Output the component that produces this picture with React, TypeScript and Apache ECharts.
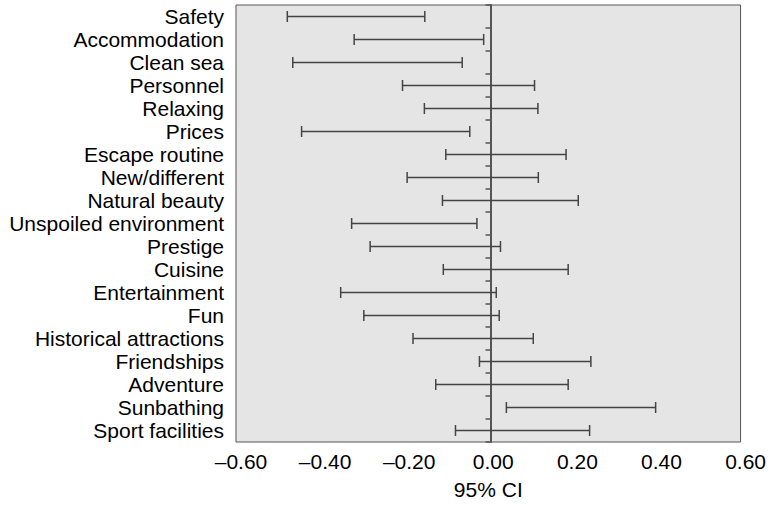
import React, { useEffect, useRef } from "react";
import * as echarts from "echarts";

const categories = [
  "Safety",
  "Accommodation",
  "Clean sea",
  "Personnel",
  "Relaxing",
  "Prices",
  "Escape routine",
  "New/different",
  "Natural beauty",
  "Unspoiled environment",
  "Prestige",
  "Cuisine",
  "Entertainment",
  "Fun",
  "Historical attractions",
  "Friendships",
  "Adventure",
  "Sunbathing",
  "Sport facilities",
];

const lowerCI = [
  -0.478, -0.319, -0.465, -0.204, -0.152, -0.444, -0.101, -0.193, -0.109, -0.325,
  -0.281, -0.107, -0.351, -0.296, -0.179, -0.021, -0.125, 0.043, -0.078,
];

const upperCI = [
  -0.151, -0.011, -0.062, 0.11, 0.118, -0.044, 0.185, 0.119, 0.214, -0.027,
  0.029, 0.19, 0.019, 0.026, 0.107, 0.244, 0.19, 0.398, 0.241,
];

const xMin = -0.6;
const xMax = 0.6;
const xInterval = 0.2;
const xTitle = "95% CI";

const W = 769;
const H = 505;
const GRID = { left: 236, right: 24, top: 5, bottom: 60 };
const FONT = "'Liberation Sans', Arial, Helvetica, sans-serif";

function fmt(v: number): string {
  if (Math.abs(v) < 1e-9) return "0.00";
  return v < 0 ? "\u2013" + Math.abs(v).toFixed(2) : v.toFixed(2);
}

export default function App() {
  const ref = useRef<HTMLDivElement>(null);
  useEffect(() => {
    if (!ref.current) return;
    const chart = echarts.init(ref.current, undefined, { renderer: "svg" });
    const gridWidth = W - GRID.left - GRID.right;
    const zeroOffset = -gridWidth * ((0 - xMin) / (xMax - xMin));
    const data = categories.map((c, i) => [i, lowerCI[i], upperCI[i]]);
    chart.setOption({
      animation: false,
      backgroundColor: "#ffffff",
      grid: {
        ...GRID,
        show: true,
        backgroundColor: "#e5e5e5",
        borderColor: "#555555",
        borderWidth: 1,
        containLabel: false,
      },
      xAxis: {
        type: "value",
        min: xMin,
        max: xMax,
        interval: xInterval,
        name: xTitle,
        nameLocation: "middle",
        nameGap: 37,
        nameTextStyle: { fontFamily: FONT, fontSize: 21, color: "#000" },
        axisLine: { show: false },
        axisTick: { show: false },
        splitLine: { show: false },
        axisLabel: {
          formatter: fmt,
          fontFamily: FONT,
          fontSize: 21,
          color: "#000",
          margin: 9,
          padding: [0, 0, 0, 10],
          hideOverlap: false,
        },
      },
      yAxis: [
        {
          type: "category",
          data: categories,
          inverse: true,
          position: "left",
          axisLine: { show: false },
          axisTick: { show: false },
          splitLine: { show: false },
          axisLabel: {
            interval: 0,
            fontFamily: FONT,
            fontSize: 21,
            color: "#000",
            margin: 12,
          },
        },
        {
          type: "category",
          data: categories,
          inverse: true,
          position: "left",
          offset: zeroOffset,
          axisLine: { show: true, lineStyle: { color: "#555555", width: 2 } },
          axisTick: { show: true, interval: 0, length: 5, lineStyle: { color: "#555555", width: 1.5 } },
          axisLabel: { show: false, interval: 0 },
          splitLine: { show: false },
        },
      ],
      series: [
        {
          type: "custom",
          xAxisIndex: 0,
          yAxisIndex: 0,
          data,
          encode: { x: [1, 2], y: 0 },
          renderItem: (params: any, api: any) => {
            const yi = api.value(0);
            const lo = api.coord([api.value(1), yi]);
            const hi = api.coord([api.value(2), yi]);
            const h = 5.5;
            const st = { stroke: "#444444", lineWidth: 1.5 };
            return {
              type: "group",
              children: [
                { type: "line", shape: { x1: lo[0], y1: lo[1], x2: hi[0], y2: hi[1] }, style: st },
                { type: "line", shape: { x1: lo[0], y1: lo[1] - h, x2: lo[0], y2: lo[1] + h }, style: st },
                { type: "line", shape: { x1: hi[0], y1: hi[1] - h, x2: hi[0], y2: hi[1] + h }, style: st },
              ],
            };
          },
        },
      ],
    });
    return () => chart.dispose();
  }, []);
  return (
    <div
      ref={ref}
      style={{ position: "fixed", left: 0, top: 0, width: W, height: H, background: "#fff" }}
    />
  );
}
